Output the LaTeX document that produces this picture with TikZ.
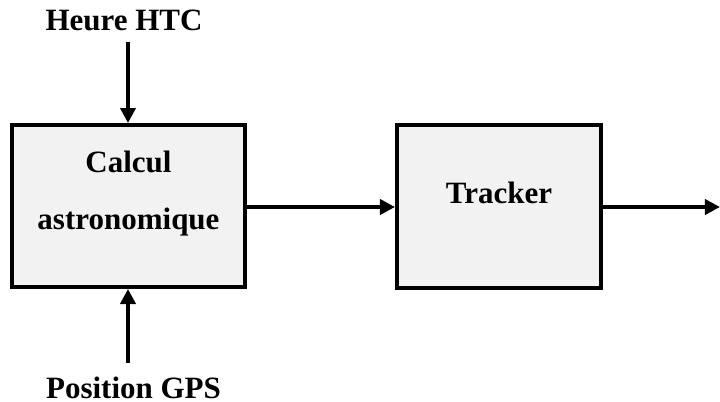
\documentclass[tikz,border=0pt]{standalone}
\usepackage{fontspec}
\setmainfont{Liberation Serif}
\usetikzlibrary{arrows.meta}
\definecolor{boxfill}{HTML}{F2F2F2}
\begin{document}
\begin{tikzpicture}[x=0.5pt,y=-0.5pt,
  blockbox/.style={draw=black,fill=boxfill,line width=2pt,inner sep=0pt},
  lbl/.style={font=\fontsize{15.5}{28.5}\selectfont\bfseries,align=center,inner sep=0pt},
  conn/.style={line width=1.8pt,-{Triangle[length=7.5pt,width=7.5pt]}}]
\useasboundingbox (0,0) rectangle (720,402);
\node[blockbox,minimum width=116.5pt,minimum height=81pt] (calc) at (128.5,206) {};
\node[blockbox,minimum width=102pt,minimum height=81.5pt] (track) at (499,206.5) {};
\node[lbl] (calctxt) at (128.5,193.5) {Calcul\\astronomique};
\node[lbl] (tracktxt) at (499,193) {Tracker};
\node[lbl,anchor=base] (heure) at (124,30) {Heure HTC};
\node[lbl,anchor=base] (gps) at (133.5,398) {Position GPS};
\coordinate (topstart) at (128,42);
\coordinate (botstart) at (128,363);
\coordinate (outend) at (720,207);
\draw[conn] (topstart) -- (calc.north -| topstart);
\draw[conn] (botstart) -- (calc.south -| botstart);
\draw[conn] (calc.east |- 0,207) -- (track.west |- 0,207);
\draw[conn] (track.east |- 0,207) -- (outend);
\end{tikzpicture}
\end{document}
